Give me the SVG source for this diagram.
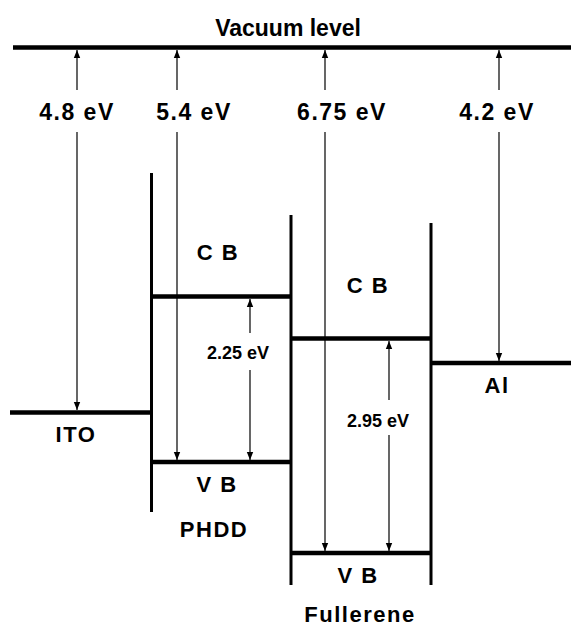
<svg xmlns="http://www.w3.org/2000/svg" width="571" height="628" viewBox="0 0 571 628">
<style>
text{font-family:"Liberation Sans",Arial,sans-serif;font-weight:bold;fill:#000;text-anchor:middle}
.lvl{stroke:#000;stroke-width:4.5;fill:none}
.wall{stroke:#000;stroke-width:3;fill:none}
.arr{stroke:#000;stroke-width:1.2;fill:none}
.big{font-size:23px;letter-spacing:1.5px}
.mid{font-size:22px;letter-spacing:1.5px}
.sm{font-size:18px}
</style>
<defs>
<marker id="ah" viewBox="0 0 8 8" refX="8" refY="4" markerWidth="8" markerHeight="8" markerUnits="userSpaceOnUse" orient="auto-start-reverse">
<path d="M0,0.8 L8,4 L0,7.2 z" fill="#000"/>
</marker>
</defs>
<rect width="571" height="628" fill="#fff"/>
<g id="vacuum">
<line class="lvl" x1="13" y1="47.5" x2="571" y2="47.5" stroke-width="5"/>
<text x="288" y="36" font-size="23px">Vacuum level</text>
</g>
<g id="ito">
<line class="lvl" x1="10" y1="412.5" x2="152" y2="412.5"/>
<text class="mid" x="76" y="442">ITO</text>
</g>
<g id="phdd">
<line class="wall" x1="151.5" y1="173" x2="151.5" y2="512"/>
<line class="wall" x1="291" y1="215" x2="291" y2="464"/>
<line class="lvl" x1="151" y1="296.5" x2="291" y2="296.5"/>
<line class="lvl" x1="151" y1="462" x2="291" y2="462"/>
<text class="mid" x="218" y="260" letter-spacing="3px">C B</text>
<text class="mid" x="217" y="492" letter-spacing="3px">V B</text>
<text class="mid" x="214" y="537">PHDD</text>
</g>
<g id="fullerene">
<line class="wall" x1="291" y1="464" x2="291" y2="585"/>
<line class="wall" x1="431" y1="223" x2="431" y2="585"/>
<line class="lvl" x1="291" y1="338.5" x2="431" y2="338.5"/>
<line class="lvl" x1="291" y1="553" x2="431" y2="553"/>
<text class="mid" x="368" y="293" letter-spacing="3px">C B</text>
<text class="mid" x="358" y="583" letter-spacing="3px">V B</text>
<text class="mid" x="360" y="622">Fullerene</text>
</g>
<g id="al">
<line class="lvl" x1="431" y1="363" x2="571" y2="363"/>
<text class="mid" x="497" y="393">Al</text>
</g>
<g id="connectors">
<line class="arr" x1="77" y1="90" x2="77" y2="50" marker-end="url(#ah)"/>
<line class="arr" x1="77" y1="132" x2="77" y2="410" marker-end="url(#ah)"/>
<text class="big" x="77" y="120">4.8 eV</text>
<line class="arr" x1="177" y1="90" x2="177" y2="50" marker-end="url(#ah)"/>
<line class="arr" x1="177" y1="132" x2="177" y2="460" marker-end="url(#ah)"/>
<text class="big" x="194" y="120">5.4 eV</text>
<line class="arr" x1="325" y1="90" x2="325" y2="50" marker-end="url(#ah)"/>
<line class="arr" x1="325" y1="132" x2="325" y2="551" marker-end="url(#ah)"/>
<text class="big" x="342" y="120">6.75 eV</text>
<line class="arr" x1="499" y1="90" x2="499" y2="50" marker-end="url(#ah)"/>
<line class="arr" x1="499" y1="132" x2="499" y2="361" marker-end="url(#ah)"/>
<text class="big" x="497" y="120">4.2 eV</text>
<line class="arr" x1="250" y1="333" x2="250" y2="299" marker-end="url(#ah)"/>
<line class="arr" x1="250" y1="370" x2="250" y2="460" marker-end="url(#ah)"/>
<text class="sm" x="238" y="359">2.25 eV</text>
<line class="arr" x1="389" y1="400" x2="389" y2="341" marker-end="url(#ah)"/>
<line class="arr" x1="389" y1="435" x2="389" y2="551" marker-end="url(#ah)"/>
<text class="sm" x="378" y="427">2.95 eV</text>
</g>
</svg>
